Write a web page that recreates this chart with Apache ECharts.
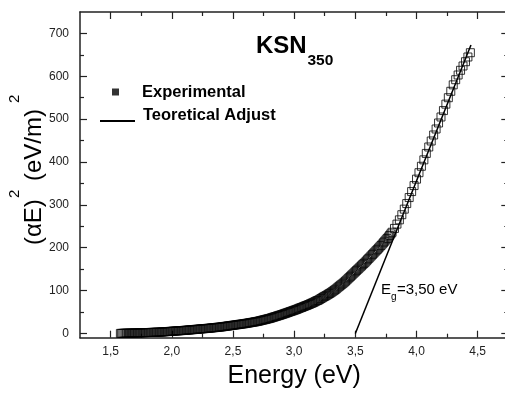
<!DOCTYPE html>
<html>
<head>
<meta charset="utf-8">
<script src="https://cdn.jsdelivr.net/npm/echarts@6/dist/echarts.min.js"></script>
<style>html,body{margin:0;padding:0;background:#fff}#c{width:505px;height:394px}</style>
</head>
<body>
<div id="c"></div>
<script>
const energy = [
  1.58,1.59,
  1.60,1.61,1.62,1.63,1.64,1.65,1.66,1.67,1.68,1.69,
  1.70,1.71,1.72,1.73,1.74,1.75,1.76,1.77,1.78,1.79,
  1.80,1.81,1.82,1.83,1.84,1.85,1.86,1.87,1.88,1.89,
  1.90,1.91,1.92,1.93,1.94,1.95,1.96,1.97,1.98,1.99,
  2.00,2.01,2.02,2.03,2.04,2.05,2.06,2.07,2.08,2.09,
  2.10,2.11,2.12,2.13,2.14,2.15,2.16,2.17,2.18,2.19,
  2.20,2.21,2.22,2.23,2.24,2.25,2.26,2.27,2.28,2.29,
  2.30,2.31,2.32,2.33,2.34,2.35,2.36,2.37,2.38,2.39,
  2.40,2.41,2.42,2.43,2.44,2.45,2.46,2.47,2.48,2.49,
  2.50,2.51,2.52,2.53,2.54,2.55,2.56,2.57,2.58,2.59,
  2.60,2.61,2.62,2.63,2.64,2.65,2.66,2.67,2.68,2.69,
  2.70,2.71,2.72,2.73,2.74,2.75,2.76,2.77,2.78,2.79,
  2.80,2.81,2.82,2.83,2.84,2.85,2.86,2.87,2.88,2.89,
  2.90,2.91,2.92,2.93,2.94,2.95,2.96,2.97,2.98,2.99,
  3.00,3.01,3.02,3.03,3.04,3.05,3.06,3.07,3.08,3.09,
  3.10,3.11,3.12,3.13,3.14,3.15,3.16,3.17,3.18,3.19,
  3.20,3.21,3.22,3.23,3.24,3.25,3.26,3.27,3.28,3.29,
  3.30,3.31,3.32,3.33,3.34,3.35,3.36,3.37,3.38,3.39,
  3.40,3.41,3.42,3.43,3.44,3.45,3.46,3.47,3.48,3.49,
  3.50,3.51,3.52,3.53,3.54,3.55,3.56,3.57,3.58,3.59,
  3.60,3.61,3.62,3.63,3.64,3.65,3.66,3.67,3.68,3.69,
  3.70,3.71,3.72,3.73,3.74,3.75,3.76,3.77,3.78,3.79,
  3.80,3.82,3.84,3.86,3.88,3.90,3.92,3.94,3.96,3.98,
  4.00,4.02,4.04,4.06,4.08,4.10,4.12,4.14,4.16,4.18,
  4.20,4.22,4.24,4.26,4.28,4.30,4.32,4.34,4.36,4.38,
  4.40,4.42,4.44];
const absorption = [
  0.0,0.1,
  0.2,0.3,0.4,0.45,0.5,0.6,0.7,0.8,0.9,0.95,
  1.0,1.1,1.2,1.3,1.4,1.5,1.6,1.7,1.8,1.9,
  2.0,2.1,2.2,2.3,2.4,2.5,2.6,2.7,2.8,2.9,
  3.0,3.2,3.4,3.6,3.8,4.0,4.2,4.4,4.6,4.8,
  5.0,5.2,5.4,5.6,5.8,6.0,6.2,6.4,6.6,6.8,
  7.0,7.25,7.5,7.75,8.0,8.25,8.5,8.75,9.0,9.25,
  9.5,9.75,10.0,10.25,10.5,10.75,11.0,11.25,11.5,11.75,
  12.0,12.3,12.6,12.9,13.2,13.5,13.8,14.1,14.4,14.7,
  15.0,15.4,15.8,16.2,16.6,17.0,17.4,17.8,18.2,18.6,
  19.0,19.4,19.8,20.2,20.6,21.0,21.4,21.8,22.2,22.6,
  23.0,23.5,24.0,24.5,25.0,25.5,26.0,26.5,27.0,27.5,
  28.0,28.7,29.4,30.1,30.8,31.5,32.2,32.9,33.6,34.3,
  35.0,35.9,36.8,37.7,38.6,39.5,40.4,41.3,42.2,43.1,
  44.0,45.0,46.0,47.0,48.0,49.0,50.0,51.0,52.0,53.0,
  54.0,55.0,56.0,57.2,58.5,59.5,60.5,61.7,63.0,64.0,
  65.0,66.2,67.5,68.7,70.0,71.2,72.5,74.0,75.5,76.7,
  78.0,79.7,81.5,83.2,85.0,86.5,88.0,89.7,91.5,93.2,
  95.0,97.0,99.0,101.0,103.0,105.5,108.0,110.2,112.5,114.7,
  117.0,119.5,122.0,124.7,127.5,130.2,133.0,135.7,138.5,141.2,
  144.0,146.7,149.5,152.2,155.0,157.7,160.5,163.2,166.0,169.0,
  172.0,175.0,178.0,181.0,184.0,187.0,190.0,193.0,196.0,199.0,
  202.0,205.2,208.5,211.7,215.0,218.2,221.5,225.0,228.5,232.2,
  236,245,255,265,277,290,303,317,331,345,
  360,375,390,405,420,435,449,463,477,491,
  505,520,535,550,565,580,592,603,614,624,
  634,645,655];
// Linear fit (Tauc extrapolation), Eg = 3.50 eV
const fitEnergy = [3.50, 4.445];
const fitValue = [0, 673];
// Axis ticks
const xMajorTicks = [1.5,2.0,2.5,3.0,3.5,4.0,4.5];
const xMinorTicks = [1.75,2.25,2.75,3.25,3.75,4.25];
const yMajorTicks = [0,100,200,300,400,500,600,700];
const yMinorTicks = [50,150,250,350,450,550,650];

const chart = echarts.init(document.getElementById('c'), null, {renderer:'canvas'});
const AX = '#222';
const FONT = 'Arial, "Liberation Sans", Helvetica, sans-serif';
const xRange = {min:1.25, max:4.75};
const yRange = {min:-10, max:750};
function xAxisDef(pos, ticks, len, showLine, showLabel, extra) {
  return Object.assign({
    type:'value', position:pos, min:xRange.min, max:xRange.max,
    axisLine:{show:showLine, onZero:false, lineStyle:{color:AX, width:1.5}},
    axisTick:{show:true, inside:true, length:len, customValues:ticks, lineStyle:{color:AX, width:1.2}},
    axisLabel:{show:showLabel, customValues:ticks, margin:8, fontSize:12, fontFamily:FONT, color:'#222',
      formatter: v => v.toFixed(1).replace('.', ',')},
    splitLine:{show:false}
  }, extra || {});
}
function yAxisDef(pos, ticks, len, showLine, showLabel, extra) {
  return Object.assign({
    type:'value', position:pos, min:yRange.min, max:yRange.max,
    axisLine:{show:showLine, onZero:false, lineStyle:{color:AX, width:1.5}},
    axisTick:{show:true, inside:true, length:len, customValues:ticks, lineStyle:{color:AX, width:1.2}},
    axisLabel:{show:showLabel, customValues:ticks, margin:11, fontSize:12, fontFamily:FONT, color:'#222',
      formatter: v => String(v)},
    splitLine:{show:false}
  }, extra || {});
}

const option = {
  animation:false,
  backgroundColor:'#fff',
  grid:{left:80, top:12, width:428.3, height:325.7, containLabel:false, outerBoundsMode:'none'},
  xAxis:[
    xAxisDef('bottom', xMajorTicks, 7, true, true, {
      name:'Energy (eV)', nameLocation:'middle', nameGap:26,
      nameTextStyle:{fontSize:25, fontFamily:FONT, color:'#000'}
    }),
    xAxisDef('bottom', xMinorTicks, 4, false, false),
    xAxisDef('top', xMajorTicks, 7, true, false),
    xAxisDef('top', xMinorTicks, 4, false, false)
  ],
  yAxis:[
    yAxisDef('left', yMajorTicks, 7, true, true),
    yAxisDef('left', yMinorTicks, 4, false, false),
    yAxisDef('right', yMajorTicks, 7, true, false),
    yAxisDef('right', yMinorTicks, 4, false, false)
  ],
  legend:[
    {data:['Experimental'], left:112, top:83.5, padding:0, icon:'rect', itemWidth:7, itemHeight:7,
      itemStyle:{color:'#000', borderWidth:0},
      textStyle:{fontSize:16.5, fontWeight:'bold', fontFamily:FONT, color:'#000', padding:[0,0,0,18]},
      selectedMode:false},
    {data:['Teoretical Adjust'], left:100, top:106.5, padding:0,
      icon:'path://M0,0h0.01v0.01h-0.01z M0,12h35v2h-35z', itemWidth:35, itemHeight:14,
      itemStyle:{color:'#000', borderWidth:0},
      textStyle:{fontSize:16.5, fontWeight:'bold', fontFamily:FONT, color:'#000', padding:[0,0,0,3]},
      selectedMode:false}
  ],
  graphic:[
    {type:'group', x:42, y:247, rotation:Math.PI/2, children:[
      {type:'text', x:2, y:-8, style:{text:'(αE)', font:'24px '+FONT, fill:'#000', verticalAlign:'middle'}},
      {type:'text', x:49, y:-27, style:{text:'2', font:'15px '+FONT, fill:'#000', verticalAlign:'middle'}},
      {type:'text', x:66, y:-8, style:{text:'(eV/m)', font:'24px '+FONT, fill:'#000', verticalAlign:'middle'}},
      {type:'text', x:144, y:-27, style:{text:'2', font:'15px '+FONT, fill:'#000', verticalAlign:'middle'}}
    ]},
    {type:'text', x:256, y:46, style:{text:'KSN', font:'bold 24px '+FONT, fill:'#000', verticalAlign:'middle'}},
    {type:'text', x:307.5, y:60.5, style:{text:'350', font:'bold 15.5px '+FONT, fill:'#000', verticalAlign:'middle'}},
    {type:'text', x:381, y:290, style:{text:'E', font:'15px '+FONT, fill:'#000', verticalAlign:'middle'}},
    {type:'text', x:391, y:297.5, style:{text:'g', font:'10px '+FONT, fill:'#000', verticalAlign:'middle'}},
    {type:'text', x:397, y:290, style:{text:'=3,50 eV', font:'15px '+FONT, fill:'#000', verticalAlign:'middle'}}
  ],
  series:[
    {name:'Experimental', type:'scatter', xAxisIndex:0, yAxisIndex:0,
      data: energy.map((e,i) => [e, absorption[i]]),
      symbol:'rect', symbolSize:8,
      itemStyle:{color:'rgba(255,255,255,0)', borderColor:'#000', borderWidth:1},
      emphasis:{disabled:true}, z:2},
    {name:'Teoretical Adjust', type:'line', xAxisIndex:0, yAxisIndex:0,
      data: fitEnergy.map((e,i) => [e, fitValue[i]]),
      showSymbol:false, symbol:'none',
      lineStyle:{color:'#000', width:1.5},
      itemStyle:{color:'#000'},
      emphasis:{disabled:true}, z:3}
  ]
};
chart.setOption(option);
</script>
</body>
</html>
